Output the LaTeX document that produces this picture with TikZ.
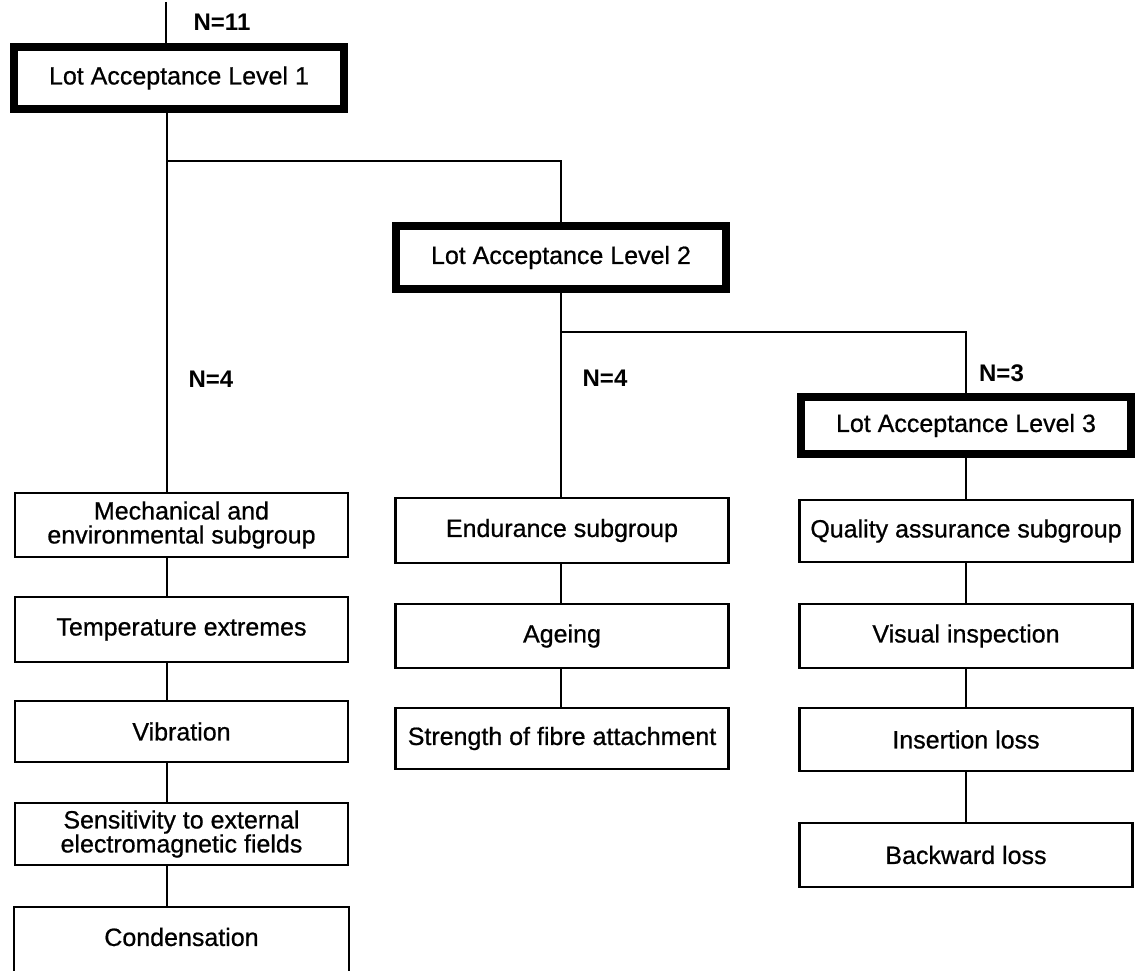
\documentclass[tikz,border=0pt]{standalone}
\usepackage{fontspec}
\setmainfont{Liberation Sans}
\newfontfamily\dgfamily[FakeBold=0.7]{Liberation Sans}
\newcommand\dgboxfont{\dgfamily\fontsize{25}{24}\selectfont}
\newcommand\dgcountfont{\fontsize{24}{26}\selectfont\bfseries}
\begin{document}
\begin{tikzpicture}[x=1pt,y=-1pt,
  box/.style={draw, line width=2.4pt, minimum width=333pt, inner sep=0pt,
              align=center, font=\dgboxfont},
  lotbox/.style={box, line width=7.5pt, minimum width=330pt},
  link/.style={line width=2pt},
  count/.style={font=\dgcountfont, inner sep=0pt}]
\clip (0,0) rectangle (1138,971);
\fill[white] (0,0) rectangle (1138,971);

% acceptance levels
\node[lotbox, minimum height=62pt] (L1) at (179,78) {Lot Acceptance Level 1};
\node[lotbox, minimum height=63pt] (L2) at (561,257.5) {Lot Acceptance Level 2};
\node[lotbox, minimum height=57pt] (L3) at (966,425.5) {Lot Acceptance Level 3};

% mechanical and environmental column
\node[box, minimum height=64pt] (mech) at (181.5,525) {Mechanical and\\environmental subgroup};
\node[box, minimum height=65pt] (temp) at (181.5,629.5) {Temperature extremes};
\node[box, minimum height=61pt] (vib)  at (181.5,731.5) {Vibration};
\node[box, minimum height=62pt] (sens) at (181.5,834) {Sensitivity to external\\electromagnetic fields};
\node[box, draw=none, minimum height=58pt] (cond) at (181.5,937) {Condensation};
\draw[line width=2.4pt] ([yshift=-90pt]cond.north west) -- (cond.north west)
  -- (cond.north east) -- ([yshift=-90pt]cond.north east);

% endurance column
\node[box, minimum height=65pt] (endur) at (562,530.5) {Endurance subgroup};
\node[box, minimum height=64pt] (age)   at (562,636) {Ageing};
\node[box, minimum height=61pt] (fibre) at (562,738.5) {Strength of fibre attachment};

% quality assurance column
\node[box, minimum height=62pt] (qa)   at (966,531) {Quality assurance subgroup};
\node[box, minimum height=64pt] (vis)  at (966,636) {Visual inspection};
\node[box, minimum height=63pt] (ins)  at (966,739.5) {Insertion loss};
\node[box, minimum height=64pt] (back) at (966,855) {Backward loss};

% sample counts
\node[count] (n11) at (222,22) {N=11};
\node[count] (n4a) at (211,379) {N=4};
\node[count] (n4b) at (605,378) {N=4};
\node[count] (n3)  at (1001.5,373) {N=3};

% connectors
\coordinate (top) at (166,2);
\coordinate (lx) at (167,0);
\coordinate (b1) at (167,161);
\coordinate (b2) at (561,332);
\draw[link] (top) -- (L1.north -| top);
\draw[link] (L1.south -| lx) -- (mech.north -| lx);
\draw[link] (mech.south -| lx) -- (temp.north -| lx);
\draw[link] (temp.south -| lx) -- (vib.north -| lx);
\draw[link] (vib.south -| lx) -- (sens.north -| lx);
\draw[link] (sens.south -| lx) -- (cond.north -| lx);
\draw[link] (b1) -| (L2.north);
\draw[link] (L2.south) -- (L2.south |- endur.north);
\draw[link] (endur.south -| L2.south) -- (age.north -| L2.south);
\draw[link] (age.south -| L2.south) -- (fibre.north -| L2.south);
\draw[link] (b2) -| (L3.north);
\draw[link] (L3.south) -- (qa.north);
\draw[link] (qa.south) -- (vis.north);
\draw[link] (vis.south) -- (ins.north);
\draw[link] (ins.south) -- (back.north);
\end{tikzpicture}
\end{document}
